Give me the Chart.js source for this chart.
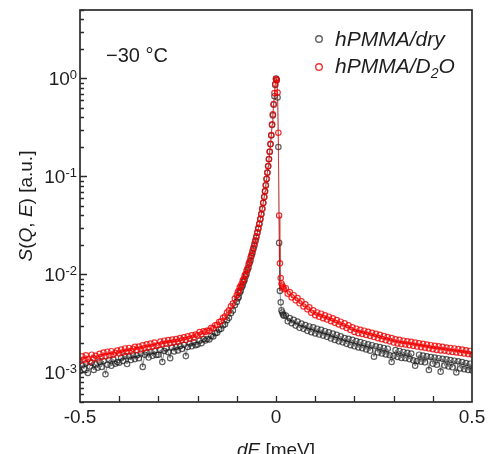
<!DOCTYPE html>
<html lang="en">
<head>
  <meta charset="UTF-8" />
  <title>S(Q, E) at -30 °C</title>
  <script src="https://cdn.jsdelivr.net/npm/chart.js"></script>
  <style>
    html, body { margin: 0; padding: 0; background: #fff; overflow: hidden; }
    canvas { display: block; }
  </style>
</head>
<body>
  <canvas id="sqe-chart" width="488" height="454"></canvas>

  <script>
    // energy transfer grid [meV], shared by both samples
    const energy = [
      -0.5,-0.495,-0.49,-0.485,-0.48,-0.475,-0.47,-0.465,-0.46,-0.455,
      -0.45,-0.445,-0.44,-0.435,-0.43,-0.425,-0.42,-0.415,-0.41,-0.405,
      -0.4,-0.395,-0.39,-0.385,-0.38,-0.375,-0.37,-0.365,-0.36,-0.355,
      -0.35,-0.345,-0.34,-0.335,-0.33,-0.325,-0.32,-0.315,-0.31,-0.305,
      -0.3,-0.295,-0.29,-0.285,-0.28,-0.275,-0.27,-0.265,-0.26,-0.255,
      -0.25,-0.245,-0.24,-0.235,-0.23,-0.225,-0.22,-0.215,-0.21,-0.205,
      -0.2,-0.195,-0.19,-0.185,-0.18,-0.175,-0.17,-0.165,-0.16,-0.155,
      -0.15,-0.145,-0.14,-0.135,-0.13,-0.125,-0.12,-0.115,-0.11,-0.105,
      -0.1,
      -0.0975,-0.095,-0.0925,-0.09,-0.0875,-0.085,-0.0825,-0.08,-0.0775,-0.075,
      -0.0725,-0.07,-0.0675,-0.065,-0.0625,-0.06,-0.0575,-0.055,-0.0525,-0.05,
      -0.0475,-0.045,-0.0425,-0.04,-0.0375,-0.035,-0.0325,
      -0.03,-0.028,-0.026,-0.024,-0.022,-0.02,-0.018,-0.016,-0.014,-0.012,
      -0.01,-0.008,-0.006,-0.004,-0.002,0,
      0.002,0.004,0.006,0.008,0.01,0.012,0.014,0.016,0.018,0.02,
      0.025,0.03,0.035,0.04,0.045,0.05,0.055,0.06,0.065,0.07,
      0.075,0.08,0.085,0.09,0.095,0.1,0.105,0.11,0.115,0.12,
      0.125,0.13,0.135,0.14,0.145,0.15,0.155,0.16,0.165,0.17,
      0.175,0.18,0.185,0.19,0.195,0.2,0.205,0.21,0.215,0.22,
      0.225,0.23,0.235,0.24,0.245,0.25,0.255,0.26,0.265,0.27,
      0.275,0.28,0.285,0.29,0.295,0.3,0.305,0.31,0.315,0.32,
      0.325,0.33,0.335,0.34,0.345,0.35,0.355,0.36,0.365,0.37,
      0.375,0.38,0.385,0.39,0.395,0.4,0.405,0.41,0.415,0.42,
      0.425,0.43,0.435,0.44,0.445,0.45,0.455,0.46,0.465,0.47,
      0.475,0.48,0.485,0.49,0.495,0.5
    ];

    // hPMMA/dry
    const dryValues = [
      1.03e-3,1.19e-3,1.09e-3,1.24e-3,0.99e-3,1.15e-3,1.26e-3,1.06e-3,1.21e-3,1.12e-3,
      1.29e-3,1.14e-3,1.31e-3,0.96e-3,1.20e-3,1.35e-3,1.17e-3,1.36e-3,1.23e-3,1.28e-3,
      1.26e-3,1.42e-3,1.31e-3,1.47e-3,1.22e-3,1.46e-3,1.34e-3,1.52e-3,1.37e-3,1.50e-3,
      1.40e-3,1.56e-3,1.14e-3,1.52e-3,1.61e-3,1.42e-3,1.63e-3,1.48e-3,1.66e-3,1.51e-3,
      1.52e-3,1.70e-3,1.28e-3,1.66e-3,1.76e-3,1.61e-3,1.40e-3,1.80e-3,1.64e-3,1.83e-3,
      1.68e-3,1.86e-3,1.74e-3,1.92e-3,1.47e-3,1.82e-3,1.98e-3,1.85e-3,2.03e-3,1.90e-3,
      1.93e-3,2.11e-3,1.99e-3,2.19e-3,2.12e-3,2.20e-3,2.17e-3,2.36e-3,2.33e-3,2.52e-3,
      2.55e-3,2.74e-3,2.79e-3,3.03e-3,3.10e-3,3.42e-3,3.61e-3,4.03e-3,4.30e-3,4.86e-3,
      5.25e-3,
      0.0057,0.0059,0.0065,0.0068,0.0074,0.0077,0.0084,0.0088,0.0096,0.0101,
      0.0111,0.0118,0.0130,0.0139,0.0154,0.0166,0.0183,0.0198,0.0219,0.0239,
      0.0267,0.0293,0.0328,0.0365,0.0412,0.0465,0.0537,
      0.0615,0.0705,0.081,0.094,0.109,0.127,0.150,0.178,0.213,0.262,
      0.335,0.42,0.54,0.66,0.86,1.0,
      0.97,0.64,0.20,0.021,0.0068,0.0052,0.0043,0.0041,0.0039,0.0038,
      3.82e-3,3.33e-3,3.60e-3,3.18e-3,3.45e-3,3.01e-3,3.31e-3,2.86e-3,3.16e-3,2.79e-3,
      3.05e-3,2.66e-3,2.95e-3,2.58e-3,2.89e-3,2.50e-3,2.80e-3,2.44e-3,2.73e-3,2.38e-3,
      2.64e-3,2.31e-3,2.57e-3,2.22e-3,2.49e-3,2.15e-3,2.42e-3,2.08e-3,2.34e-3,2.03e-3,
      2.25e-3,1.96e-3,2.21e-3,1.90e-3,2.15e-3,1.85e-3,2.09e-3,1.80e-3,2.04e-3,1.77e-3,
      1.99e-3,1.72e-3,1.94e-3,1.67e-3,1.90e-3,1.45e-3,1.85e-3,1.60e-3,1.82e-3,1.56e-3,
      1.78e-3,1.53e-3,1.75e-3,1.50e-3,1.28e-3,1.48e-3,1.69e-3,1.44e-3,1.66e-3,1.41e-3,
      1.62e-3,1.40e-3,1.59e-3,1.37e-3,1.56e-3,1.33e-3,1.17e-3,1.31e-3,1.52e-3,1.29e-3,
      1.49e-3,1.27e-3,1.46e-3,1.06e-3,1.44e-3,1.23e-3,1.42e-3,1.20e-3,1.40e-3,1.02e-3,
      1.38e-3,1.18e-3,1.36e-3,1.15e-3,1.34e-3,1.13e-3,1.32e-3,1.00e-3,1.30e-3,1.10e-3,
      1.28e-3,1.08e-3,1.25e-3,1.06e-3,1.23e-3,1.05e-3
    ];

    // hPMMA/D2O
    const d2oValues = [
      1.30e-3,1.46e-3,1.35e-3,1.50e-3,1.37e-3,1.29e-3,1.52e-3,1.40e-3,1.48e-3,1.39e-3,
      1.55e-3,1.44e-3,1.60e-3,1.47e-3,1.63e-3,1.49e-3,1.65e-3,1.52e-3,1.59e-3,1.67e-3,
      1.56e-3,1.71e-3,1.60e-3,1.76e-3,1.63e-3,1.78e-3,1.65e-3,1.75e-3,1.83e-3,1.70e-3,
      1.84e-3,1.72e-3,1.89e-3,1.77e-3,1.94e-3,1.80e-3,1.97e-3,1.83e-3,2.02e-3,1.87e-3,
      1.90e-3,2.07e-3,1.95e-3,2.11e-3,1.97e-3,2.14e-3,2.00e-3,2.17e-3,2.03e-3,2.19e-3,
      2.06e-3,2.24e-3,2.13e-3,2.29e-3,2.15e-3,2.34e-3,2.21e-3,2.40e-3,2.27e-3,2.44e-3,
      2.39e-3,2.58e-3,2.45e-3,2.64e-3,2.59e-3,2.68e-3,2.66e-3,2.86e-3,2.82e-3,3.04e-3,
      3.06e-3,3.28e-3,3.33e-3,3.62e-3,3.73e-3,4.09e-3,4.30e-3,4.74e-3,5.05e-3,5.68e-3,
      6.15e-3,
      0.0066,0.0068,0.0074,0.0076,0.0080,0.0086,0.0090,0.0097,0.0101,0.0110,
      0.0116,0.0127,0.0135,0.0148,0.0159,0.0174,0.0187,0.0206,0.0223,0.0246,
      0.0269,0.0299,0.0329,0.0371,0.0414,0.0471,0.0539,
      0.062,0.071,0.082,0.095,0.110,0.128,0.151,0.180,0.215,0.265,
      0.340,0.430,0.550,0.710,0.880,0.990,
      0.96,0.72,0.28,0.040,0.013,0.0092,0.0081,0.0077,0.0074,0.0071,
      7.25e-3,6.38e-3,6.62e-3,5.84e-3,6.15e-3,5.45e-3,5.75e-3,5.08e-3,5.33e-3,4.72e-3,
      4.97e-3,4.41e-3,4.63e-3,4.07e-3,4.30e-3,3.84e-3,4.10e-3,3.70e-3,3.98e-3,3.58e-3,
      3.84e-3,3.47e-3,3.71e-3,3.34e-3,3.57e-3,3.21e-3,3.43e-3,3.09e-3,3.30e-3,2.96e-3,
      3.17e-3,2.84e-3,3.03e-3,2.71e-3,2.89e-3,2.59e-3,2.80e-3,2.52e-3,2.73e-3,2.47e-3,
      2.67e-3,2.42e-3,2.60e-3,2.36e-3,2.54e-3,2.30e-3,2.48e-3,2.24e-3,2.42e-3,2.19e-3,
      2.35e-3,2.13e-3,2.30e-3,2.08e-3,2.24e-3,2.02e-3,2.18e-3,1.98e-3,2.15e-3,1.95e-3,
      2.11e-3,1.93e-3,2.08e-3,1.90e-3,2.06e-3,1.87e-3,2.02e-3,1.84e-3,1.99e-3,1.81e-3,
      1.96e-3,1.79e-3,1.93e-3,1.76e-3,1.90e-3,1.73e-3,1.87e-3,1.70e-3,1.85e-3,1.68e-3,
      1.83e-3,1.67e-3,1.80e-3,1.64e-3,1.78e-3,1.62e-3,1.76e-3,1.60e-3,1.73e-3,1.58e-3,
      1.71e-3,1.56e-3,1.68e-3,1.54e-3,1.66e-3,1.52e-3
    ];

    const xTickValues = [-0.4, -0.3, -0.2, -0.1, 0, 0.1, 0.2, 0.3, 0.4];
    const xLabelValues = [-0.5, 0, 0.5];
    const xLabels = ['-0.5', '0', '0.5'];
    const yDecades = [-4, -3, -2, -1, 0];
    const yLabelDecades = [0, -1, -2, -3];

    const FONT = '"Liberation Sans", Arial, sans-serif';
    const axisColor = '#2b2b2b';
    const textColor = '#1e1e1e';
    const dryColor = 'rgba(20,20,20,0.68)';
    const d2oColor = 'rgba(240,0,0,0.8)';

    const toPoints = vals => vals.map((v, i) => ({ x: energy[i], y: v }));

    // draws a list of [text, italic] pieces in a row, centred on cx
    function drawRuns(ctx, runs, cx, cy, size) {
      const widths = runs.map(r => {
        ctx.font = (r[1] ? 'italic ' : '') + size + 'px ' + FONT;
        return ctx.measureText(r[0]).width;
      });
      let x = cx - widths.reduce((a, b) => a + b, 0) / 2;
      runs.forEach((r, i) => {
        ctx.font = (r[1] ? 'italic ' : '') + size + 'px ' + FONT;
        ctx.fillText(r[0], x, cy);
        x += widths[i];
      });
    }

    const framePlugin = {
      id: 'frame',
      afterDatasetsDraw(chart) {
        const { ctx, chartArea: a, scales: { x, y } } = chart;
        ctx.save();

        // box
        ctx.strokeStyle = axisColor;
        ctx.lineWidth = 1.7;
        ctx.strokeRect(a.left, a.top, a.right - a.left, a.bottom - a.top);

        // inward ticks
        ctx.lineWidth = 1.3;
        ctx.beginPath();
        xTickValues.forEach(v => {
          const px = Math.round(x.getPixelForValue(v)) + 0.5;
          ctx.moveTo(px, a.bottom);
          ctx.lineTo(px, a.bottom - 6);
        });
        yDecades.forEach(d => {
          for (let m = 1; m <= 9; m++) {
            const v = m * Math.pow(10, d);
            if (v < y.min || v > y.max) continue;
            const py = Math.round(y.getPixelForValue(v)) + 0.5;
            ctx.moveTo(a.left, py);
            ctx.lineTo(a.left + (m === 1 ? 7 : 4), py);
          }
        });
        ctx.stroke();

        ctx.fillStyle = textColor;
        ctx.textBaseline = 'alphabetic';

        // x tick labels
        ctx.font = '19px ' + FONT;
        ctx.textAlign = 'center';
        xLabelValues.forEach((v, i) => {
          ctx.fillText(xLabels[i], x.getPixelForValue(v), a.bottom + 21);
        });

        // y tick labels 10^n
        ctx.textAlign = 'left';
        yLabelDecades.forEach(d => {
          const py = y.getPixelForValue(Math.pow(10, d));
          const exp = String(d);
          ctx.font = '13px ' + FONT;
          const ew = ctx.measureText(exp).width;
          ctx.font = '19px ' + FONT;
          const bw = ctx.measureText('10').width;
          const right = a.left - 3;
          ctx.fillText('10', right - ew - bw, py + 7);
          ctx.font = '13px ' + FONT;
          ctx.fillText(exp, right - ew, py + 1);
        });

        // axis titles
        ctx.textAlign = 'left';
        drawRuns(ctx, [['dE', true], [' [meV]', false]], (a.left + a.right) / 2, 456, 19);
        ctx.save();
        ctx.translate(32, (a.top + a.bottom) / 2);
        ctx.rotate(-Math.PI / 2);
        drawRuns(ctx, [['S', true], ['(', false], ['Q', true], [', ', false], ['E', true], [') [a.u.]', false]], 0, 0, 19);
        ctx.restore();

        // temperature note
        ctx.font = '20px ' + FONT;
        ctx.fillText('\u221230 \u00B0C', 106, 62);

        // legend
        const legendX = 319;
        ctx.lineWidth = 1.4;
        ctx.strokeStyle = dryColor;
        ctx.beginPath();
        ctx.arc(legendX, 39, 3.3, 0, Math.PI * 2);
        ctx.stroke();
        ctx.strokeStyle = d2oColor;
        ctx.beginPath();
        ctx.arc(legendX, 67, 3.3, 0, Math.PI * 2);
        ctx.stroke();

        ctx.font = 'italic 21px ' + FONT;
        ctx.fillText('hPMMA/dry', 335, 46);
        let tx = 335;
        ctx.fillText('hPMMA/D', tx, 73);
        tx += ctx.measureText('hPMMA/D').width;
        ctx.font = 'italic 14px ' + FONT;
        ctx.fillText('2', tx, 78);
        tx += ctx.measureText('2').width;
        ctx.font = 'italic 21px ' + FONT;
        ctx.fillText('O', tx, 73);

        ctx.restore();
      }
    };

    const ctx = document.getElementById('sqe-chart').getContext('2d');
    new Chart(ctx, {
      type: 'scatter',
      data: {
        datasets: [
          {
            label: 'hPMMA/D2O',
            data: toPoints(d2oValues),
            order: 0,
            showLine: true,
            borderColor: d2oColor,
            borderWidth: 0.7,
            pointRadius: 2.7,
            pointBorderWidth: 1.2,
            pointBorderColor: d2oColor,
            pointBackgroundColor: 'rgba(0,0,0,0)'
          },
          {
            label: 'hPMMA/dry',
            data: toPoints(dryValues),
            order: 1,
            showLine: true,
            borderColor: dryColor,
            borderWidth: 0.7,
            pointRadius: 2.7,
            pointBorderWidth: 1.2,
            pointBorderColor: dryColor,
            pointBackgroundColor: 'rgba(0,0,0,0)'
          }
        ]
      },
      options: {
        responsive: false,
        animation: false,
        layout: { padding: { left: 80, top: 10, right: 16, bottom: 52 } },
        plugins: {
          legend: { display: false },
          tooltip: { enabled: false }
        },
        scales: {
          x: { type: 'linear', min: -0.5, max: 0.5, display: false },
          y: { type: 'logarithmic', min: 5e-4, max: 5, display: false }
        }
      },
      plugins: [framePlugin]
    });
  </script>
</body>
</html>
